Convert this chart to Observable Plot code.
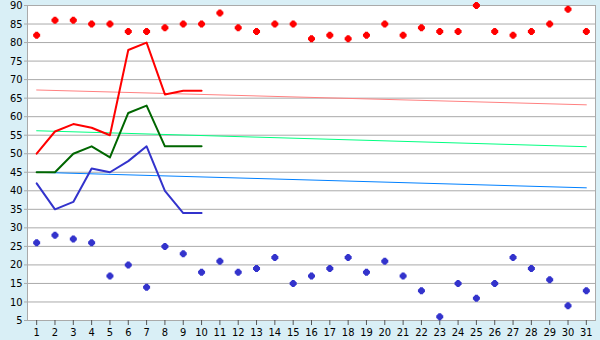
<!DOCTYPE html>
<html>
<head>
<meta charset="utf-8">
<script src="https://cdn.jsdelivr.net/npm/d3@7"></script>
<script src="https://cdn.jsdelivr.net/npm/@observablehq/plot@0.6"></script>
<style>
  html, body { margin: 0; padding: 0; background: #d9eff6; }
  #chart svg { display: block; }
</style>
</head>
<body>
<div id="chart"></div>
<script>
const days = d3.range(1, 32);
const yTicks = d3.range(5, 95, 5);

const redPoints = [82,86,86,85,85,83,83,84,85,85,88,84,83,85,85,81,82,81,82,85,82,84,83,83,90,83,82,83,85,89,83];
const bluePoints = [26,28,27,26,17,20,14,25,23,18,21,18,19,22,15,17,19,22,18,21,17,13,6,15,11,15,22,19,16,9,13];

const lineDays = d3.range(1, 11);
const redLine = [50,56,58,57,55,78,80,66,67,67];
const greenLine = [45,45,50,52,49,61,63,52,52,52];
const blueLine = [42,35,37,46,45,48,52,40,34,34];

const trendDays = [1, 31];
const redTrend = [67.2, 63.2];
const greenTrend = [56.2, 51.9];
const blueTrend = [45.0, 40.8];

const pts = (arr, xs) => arr.map((v, i) => ({x: xs[i], y: v}));

// small pixel-style cross/diamond marker
const pixelDiamond = {
  draw(ctx) {
    const a = 1.5, b = 3.5, c = 2.5;
    ctx.moveTo(-a, -b); ctx.lineTo(a, -b); ctx.lineTo(a, -c); ctx.lineTo(c, -c); ctx.lineTo(c, -a); ctx.lineTo(b, -a);
    ctx.lineTo(b, a); ctx.lineTo(c, a); ctx.lineTo(c, c); ctx.lineTo(a, c); ctx.lineTo(a, b); ctx.lineTo(-a, b);
    ctx.lineTo(-a, c); ctx.lineTo(-c, c); ctx.lineTo(-c, a); ctx.lineTo(-b, a); ctx.lineTo(-b, -a); ctx.lineTo(-c, -a);
    ctx.lineTo(-c, -c); ctx.lineTo(-a, -c);
    ctx.closePath();
  }
};

const chart = Plot.plot({
  width: 600,
  height: 340,
  marginLeft: 27,
  marginRight: 5,
  marginTop: 5,
  marginBottom: 20,
  style: {background: "#d9eff6", fontFamily: "'DejaVu Sans Condensed', 'DejaVu Sans', sans-serif", fontStretch: "condensed", fontSize: "11px", color: "#000"},
  x: {domain: [0.5, 31.5], ticks: days, tickFormat: d => String(d), label: null},
  y: {domain: [5, 90], ticks: yTicks, label: null},
  marks: [
    Plot.frame({fill: "white", stroke: null}),
    Plot.ruleY(yTicks, {stroke: "#aaaaaa", strokeWidth: 1}),
    Plot.frame({stroke: "#aaaaaa", strokeWidth: 1}),
    Plot.axisY({ticks: yTicks, tickSize: 3, tickPadding: 2, stroke: "#aaaaaa", fill: "#000", label: null}),
    Plot.axisX({ticks: days, tickSize: 5, tickPadding: 3, stroke: "#555", fill: "#000", label: null, tickFormat: d => String(d)}),
    Plot.line(pts(redTrend, trendDays), {x: "x", y: "y", stroke: "#ff8080", strokeWidth: 1}),
    Plot.line(pts(greenTrend, trendDays), {x: "x", y: "y", stroke: "#00ff80", strokeWidth: 1}),
    Plot.line(pts(blueTrend, trendDays), {x: "x", y: "y", stroke: "#0080ff", strokeWidth: 1}),
    Plot.line(pts(redLine, lineDays), {x: "x", y: "y", stroke: "#ff0000", strokeWidth: 2}),
    Plot.line(pts(greenLine, lineDays), {x: "x", y: "y", stroke: "#006600", strokeWidth: 2}),
    Plot.line(pts(blueLine, lineDays), {x: "x", y: "y", stroke: "#3333cc", strokeWidth: 2}),
    Plot.dot(pts(redPoints, days), {x: "x", y: "y", symbol: pixelDiamond, r: 3, fill: "#ff0000", stroke: null}),
    Plot.dot(pts(bluePoints, days), {x: "x", y: "y", symbol: pixelDiamond, r: 3, fill: "#3333cc", stroke: null})
  ]
});
document.getElementById("chart").appendChild(chart);
</script>
</body>
</html>
